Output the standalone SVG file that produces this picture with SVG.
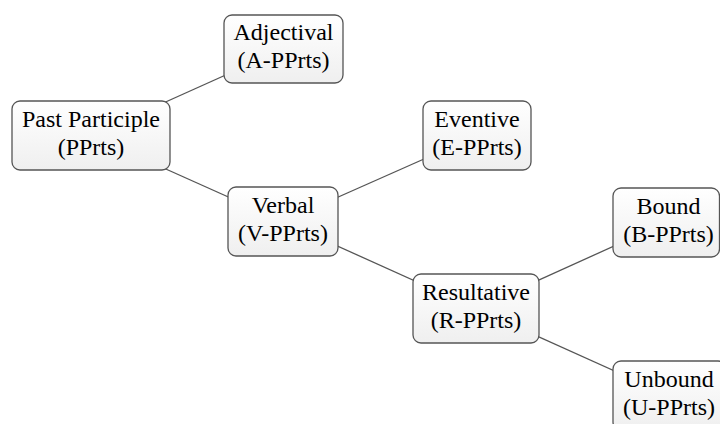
<svg xmlns="http://www.w3.org/2000/svg" width="720" height="424" viewBox="0 0 720 424">
  <defs>
    <linearGradient id="boxFill" x1="0" y1="0" x2="0" y2="1">
      <stop offset="0" stop-color="#ffffff"/>
      <stop offset="1" stop-color="#efefef"/>
    </linearGradient>
    <style>
      .box { fill: url(#boxFill); stroke: #555; stroke-width: 1.3; }
      .edge { stroke: #555; stroke-width: 1.3; fill: none; }
    </style>
  </defs>
  <rect width="720" height="424" fill="#ffffff"/>

  <!-- connectors run centre to centre; the opaque boxes cover the inner parts -->
  <g id="connectors">
    <line class="edge" x1="91" y1="135.5" x2="283.5" y2="49"/>
    <line class="edge" x1="91" y1="135.5" x2="283" y2="221.5"/>
    <line class="edge" x1="283" y1="221.5" x2="477" y2="135.5"/>
    <line class="edge" x1="283" y1="221.5" x2="476" y2="308.5"/>
    <line class="edge" x1="476" y1="308.5" x2="666" y2="222.5"/>
    <line class="edge" x1="476" y1="308.5" x2="669" y2="395.5"/>
  </g>

  <g font-family="Liberation Serif, Times New Roman, DejaVu Serif, serif" font-size="24" fill="#000" text-anchor="middle">
    <g id="pprts">
      <rect class="box" x="12" y="101" width="158" height="69" rx="8"/>
      <text x="91" y="127">Past Participle</text>
      <text x="91" y="155">(PPrts)</text>
    </g>

    <g id="a-pprts">
      <rect class="box" x="224" y="15" width="119" height="68" rx="8"/>
      <text x="283.5" y="40">Adjectival</text>
      <text x="283.5" y="68">(A-PPrts)</text>
    </g>

    <g id="v-pprts">
      <rect class="box" x="228" y="187" width="110" height="69" rx="8"/>
      <text x="283" y="213">Verbal</text>
      <text x="283" y="241">(V-PPrts)</text>
    </g>

    <g id="e-pprts">
      <rect class="box" x="423" y="101" width="108" height="69" rx="8"/>
      <text x="477" y="127">Eventive</text>
      <text x="477" y="155">(E-PPrts)</text>
    </g>

    <g id="r-pprts">
      <rect class="box" x="413" y="274" width="126" height="69" rx="8"/>
      <text x="476" y="300">Resultative</text>
      <text x="476" y="328">(R-PPrts)</text>
    </g>

    <g id="b-pprts">
      <rect class="box" x="613" y="188" width="106.5" height="69" rx="8"/>
      <text x="668.5" y="214">Bound</text>
      <text x="668.5" y="242">(B-PPrts)</text>
    </g>

    <g id="u-pprts">
      <rect class="box" x="613" y="361" width="113" height="69" rx="8"/>
      <text x="669" y="387">Unbound</text>
      <text x="669" y="415">(U-PPrts)</text>
    </g>
  </g>
</svg>
